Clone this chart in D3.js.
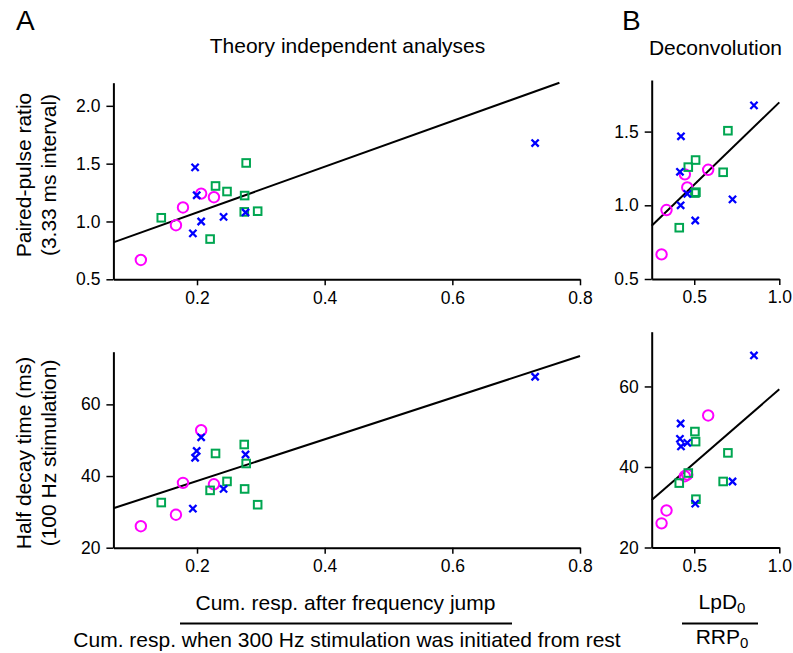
<!DOCTYPE html>
<html>
<head>
<meta charset="utf-8">
<script src="https://cdn.jsdelivr.net/npm/d3@7"></script>
<style>
    body { margin: 0; background: #fff; }
    text { font-family: "Liberation Sans", Arial, sans-serif; fill: #000; }
</style>
</head>
<body>
<div id="chart"></div>
<script>
// one value per cell: cum. resp. ratio (A x), paired-pulse ratio, half decay time, LpD0/RRP0 (B x)
const circleCumResp = [0.112, 0.167, 0.178, 0.2065, 0.2265];
const circlePPR = [0.667, 0.968, 1.121, 1.241, 1.21];
const circleHalfDecay = [26.0, 29.2, 38.1, 52.8, 37.7];
const circleLpD = [0.308, 0.337, 0.459, 0.582, 0.445];

const squareCumResp = [0.144, 0.2205, 0.229, 0.247, 0.277, 0.2746, 0.274, 0.295];
const squarePPR = [1.032, 0.848, 1.307, 1.259, 1.506, 1.224, 1.083, 1.089];
const squareHalfDecay = [32.6, 36.0, 46.3, 38.5, 43.5, 36.4, 48.8, 32.0];
const squareLpD = [null, 0.412, 0.508, 0.465, 0.698, 0.67, 0.504, 0.51];

const crossCumResp = [0.197, 0.1995, 0.1935, 0.2065, 0.2416, 0.276, 0.7297];
const crossPPR = [1.468, 1.227, 0.897, 1.0, 1.04, 1.078, 1.678];
const crossHalfDecay = [45.1, 47.0, 30.9, 50.8, 36.4, 46.0, 67.7];
const crossLpD = [0.422, 0.416, 0.506, 0.42, 0.725, 0.459, 0.851];

// regression lines as [intercept, slope]
const fitPPRvsCumResp = [0.683, 1.976];
const fitHalfDecayVsCumResp = [27.0, 58.1];
const fitPPRvsLpD = [0.582, 1.116];
const fitHalfDecayVsLpD = [22.6, 36.7];

const ticksCumResp = [0.2, 0.4, 0.6, 0.8];
const ticksLpD = [0.5, 1.0];
const ticksPPR = [0.5, 1.0, 1.5, 2.0];
const ticksPPRB = [0.5, 1.0, 1.5];
const ticksHalfDecay = [20, 40, 60];

const width = 793;
const height = 653;
const magenta = "#ff00ff";
const green = "#00a651";
const blue = "#0000ff";

const svg = d3.select("#chart")
    .append("svg")
    .attr("width", width)
    .attr("height", height);

function drawPanel(p) {
    const x = d3.scaleLinear().domain(p.xDomain).range(p.xRange);
    const y = d3.scaleLinear().domain(p.yDomain).range(p.yRange);
    const g = svg.append("g");

    const yAxis = g.append("g")
        .attr("transform", `translate(${p.xRange[0]},0)`)
        .call(d3.axisLeft(y).tickValues(p.yTicks).tickFormat(p.yFormat)
            .tickSize(7).tickPadding(6).tickSizeOuter(0));
    const xAxis = g.append("g")
        .attr("transform", `translate(0,${p.yRange[0]})`)
        .call(d3.axisBottom(x).tickValues(p.xTicks).tickFormat(d3.format(".1f"))
            .tickSize(6).tickPadding(6).tickSizeOuter(0));
    [xAxis, yAxis].forEach(a => {
        a.select(".domain").attr("stroke-width", 2);
        a.selectAll(".tick line").attr("stroke-width", 1.5);
        a.selectAll(".tick text")
            .style("font-family", "'Liberation Sans', Arial, sans-serif")
            .style("font-size", "17.5px");
    });

    // fit line, clipped to the top of the y axis
    const [a, b] = p.fit;
    const x0 = p.xDomain[0];
    const x1 = Math.min(p.xDomain[1], (p.yDomain[1] - a) / b);
    g.append("line")
        .attr("x1", x(x0)).attr("y1", y(a + b * x0))
        .attr("x2", x(x1)).attr("y2", y(a + b * x1))
        .attr("stroke", "#000")
        .attr("stroke-width", 2);

    const pts = (xs, ys) => xs.map((v, i) => [v, ys[i]]).filter(d => d[0] != null);

    g.selectAll(".circ")
        .data(pts(p.circle[0], p.circle[1]))
        .enter().append("circle")
        .attr("cx", d => x(d[0]))
        .attr("cy", d => y(d[1]))
        .attr("r", 5.2)
        .attr("fill", "none")
        .attr("stroke", magenta)
        .attr("stroke-width", 2);

    g.selectAll(".sq")
        .data(pts(p.square[0], p.square[1]))
        .enter().append("rect")
        .attr("x", d => x(d[0]) - 3.8)
        .attr("y", d => y(d[1]) - 3.8)
        .attr("width", 7.6)
        .attr("height", 7.6)
        .attr("fill", "none")
        .attr("stroke", green)
        .attr("stroke-width", 2);

    g.selectAll(".cross")
        .data(pts(p.cross[0], p.cross[1]))
        .enter().append("path")
        .attr("transform", d => `translate(${x(d[0])},${y(d[1])})`)
        .attr("d", "M-3.6,-3.6L3.6,3.6M-3.6,3.6L3.6,-3.6")
        .attr("stroke", blue)
        .attr("stroke-width", 2.3);
}

const f1 = d3.format(".1f");
const f0 = d3.format("d");

drawPanel({
    xDomain: [0.069, 0.8], xRange: [113.4, 580], xTicks: ticksCumResp,
    yDomain: [0.5, 2.2], yRange: [279.3, 82.7], yTicks: ticksPPR, yFormat: f1,
    fit: fitPPRvsCumResp,
    circle: [circleCumResp, circlePPR],
    square: [squareCumResp, squarePPR],
    cross: [crossCumResp, crossPPR]
});
drawPanel({
    xDomain: [0.069, 0.8], xRange: [113.4, 580], xTicks: ticksCumResp,
    yDomain: [20, 74.7], yRange: [547.7, 351.7], yTicks: ticksHalfDecay, yFormat: f0,
    fit: fitHalfDecayVsCumResp,
    circle: [circleCumResp, circleHalfDecay],
    square: [squareCumResp, squareHalfDecay],
    cross: [crossCumResp, crossHalfDecay]
});
drawPanel({
    xDomain: [0.25, 1.0], xRange: [651.7, 779.3], xTicks: ticksLpD,
    yDomain: [0.5, 1.85], yRange: [279, 80], yTicks: ticksPPRB, yFormat: f1,
    fit: fitPPRvsLpD,
    circle: [circleLpD, circlePPR],
    square: [squareLpD, squarePPR],
    cross: [crossLpD, crossPPR]
});
drawPanel({
    xDomain: [0.25, 1.0], xRange: [651.7, 779.3], xTicks: ticksLpD,
    yDomain: [20, 73.6], yRange: [547.5, 331.7], yTicks: ticksHalfDecay, yFormat: f0,
    fit: fitHalfDecayVsLpD,
    circle: [circleLpD, circleHalfDecay],
    square: [squareLpD, squareHalfDecay],
    cross: [crossLpD, crossHalfDecay]
});

// panel letters and titles
svg.append("text").attr("x", 16).attr("y", 30).style("font-size", "28px").text("A");
svg.append("text").attr("x", 622).attr("y", 30).style("font-size", "28px").text("B");
svg.append("text").attr("x", 347.5).attr("y", 53).attr("text-anchor", "middle")
    .style("font-size", "21px").text("Theory independent analyses");
svg.append("text").attr("x", 715.5).attr("y", 55).attr("text-anchor", "middle")
    .style("font-size", "21px").text("Deconvolution");

// y axis labels
const yLabels = [
    ["Paired-pulse ratio", 31, 175],
    ["(3.33 ms interval)", 56, 175],
    ["Half decay time (ms)", 31, 453],
    ["(100 Hz stimulation)", 56, 453]
];
yLabels.forEach(([t, lx, ly]) => {
    svg.append("text")
        .attr("transform", `translate(${lx},${ly}) rotate(-90)`)
        .attr("text-anchor", "middle")
        .style("font-size", "21px")
        .text(t);
});

// x axis labels as fractions
svg.append("text").attr("x", 345.5).attr("y", 610).attr("text-anchor", "middle")
    .style("font-size", "21px").text("Cum. resp. after frequency jump");
svg.append("line").attr("x1", 180).attr("x2", 512).attr("y1", 623.5).attr("y2", 623.5)
    .attr("stroke", "#000").attr("stroke-width", 2);
svg.append("text").attr("x", 347).attr("y", 647).attr("text-anchor", "middle")
    .style("font-size", "21px").text("Cum. resp. when 300 Hz stimulation was initiated from rest");

const num = svg.append("text").attr("x", 722).attr("y", 609).attr("text-anchor", "middle")
    .style("font-size", "21px");
num.append("tspan").text("LpD");
num.append("tspan").attr("dy", 4).style("font-size", "15px").text("0");
svg.append("line").attr("x1", 682).attr("x2", 758).attr("y1", 623.5).attr("y2", 623.5)
    .attr("stroke", "#000").attr("stroke-width", 2);
const den = svg.append("text").attr("x", 722).attr("y", 644).attr("text-anchor", "middle")
    .style("font-size", "21px");
den.append("tspan").text("RRP");
den.append("tspan").attr("dy", 4).style("font-size", "15px").text("0");
</script>
</body>
</html>
